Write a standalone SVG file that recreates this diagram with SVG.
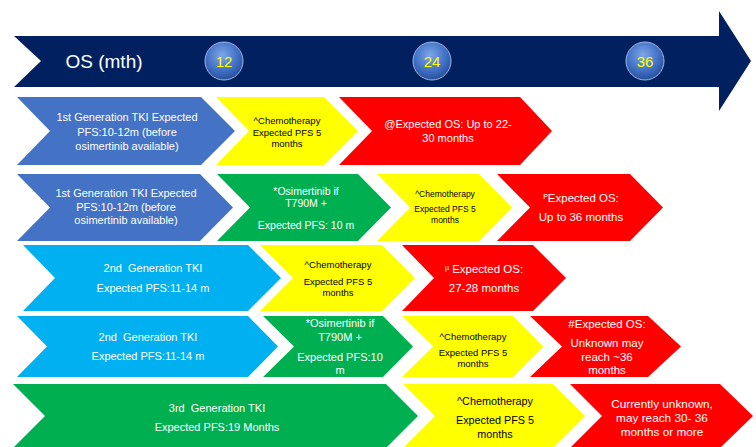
<svg xmlns="http://www.w3.org/2000/svg" width="756" height="447" viewBox="0 0 756 447">
<defs>
<radialGradient id="ball" cx="0.45" cy="0.35" r="0.7">
<stop offset="0" stop-color="#7FA6E8"/>
<stop offset="0.6" stop-color="#3F6FC4"/>
<stop offset="1" stop-color="#23498F"/>
</radialGradient>
</defs>
<style>
text{font-family:"Liberation Sans",Arial,sans-serif;text-anchor:middle}
.w{fill:#FFFFFF}
.k{fill:#000000}
.blue{fill:#4472C4}
.yel{fill:#FFFF00}
.red{fill:#FF0000}
.grn{fill:#00B050}
.cyan{fill:#00B0F0}
.num{fill:#FFFF00;font-size:15px}
</style>
<rect width="756" height="447" fill="#FFFFFF"/>
<g id="timeline">
<polygon points="14,36 719,36 719,11 751,61 719,111 719,87 14,87 41,61" fill="#002060"/>
<text x="104" y="68" class="w" style="font-size:19px">OS (mth)</text>
</g>
<g id="m12"><circle cx="224" cy="61" r="19" fill="url(#ball)" stroke="#9DB8E8" stroke-width="1"/><text x="224" y="67" class="num">12</text></g>
<g id="m24"><circle cx="432" cy="61" r="19" fill="url(#ball)" stroke="#9DB8E8" stroke-width="1"/><text x="432" y="67" class="num">24</text></g>
<g id="m36"><circle cx="645" cy="61" r="19" fill="url(#ball)" stroke="#9DB8E8" stroke-width="1"/><text x="645" y="67" class="num">36</text></g>

<!-- Row 1 -->
<g id="r1a"><polygon class="blue" points="17,97 201,97 235,131 201,165 17,165 50,131"/>
<text class="w" style="font-size:11px"><tspan x="127" y="121">1st Generation TKI Expected</tspan><tspan x="127" y="136">PFS:10-12m (before</tspan><tspan x="127" y="150">osimertinib available)</tspan></text></g>
<g id="r1b"><polygon class="yel" points="216,97 324,97 358,131 324,165 216,165 249,131"/>
<text class="k" style="font-size:9.5px"><tspan x="287" y="124">^Chemotherapy</tspan><tspan x="287" y="136">Expected PFS 5</tspan><tspan x="287" y="147">months</tspan></text></g>
<g id="r1c"><polygon class="red" points="339,97 520,97 552,131 520,165 339,165 372,131"/>
<text class="w" style="font-size:11px"><tspan x="448" y="128">@Expected OS: Up to 22-</tspan><tspan x="448" y="142">30 months</tspan></text></g>

<!-- Row 2 -->
<g id="r2a"><polygon class="blue" points="17,174 200,174 233,207.5 200,241 17,241 50,207.5"/>
<text class="w" style="font-size:11px"><tspan x="126" y="197">1st Generation TKI Expected</tspan><tspan x="126" y="211">PFS:10-12m (before</tspan><tspan x="126" y="224">osimertinib available)</tspan></text></g>
<g id="r2b"><polygon class="grn" points="217,174 358,174 391,207.5 358,241 217,241 250,207.5"/>
<text class="w" style="font-size:10.5px"><tspan x="306" y="195">*Osimertinib if</tspan><tspan x="306" y="207">T790M +</tspan><tspan x="306" y="229">Expected PFS: 10 m</tspan></text></g>
<g id="r2c"><polygon class="yel" points="377,174 479,174 512,207.5 479,241 377,241 410,207.5"/>
<text class="k" style="font-size:8.5px"><tspan x="445" y="197">^Chemotherapy</tspan><tspan x="445" y="212">Expected PFS 5</tspan><tspan x="445" y="223">months</tspan></text></g>
<g id="r2d"><polygon class="red" points="497,174 630,174 663,207.5 630,241 497,241 530,207.5"/>
<text class="w" style="font-size:11.5px"><tspan x="581" y="202"><tspan style="font-size:7px" dy="-3">P</tspan><tspan dy="3">Expected OS:</tspan></tspan><tspan x="581" y="221">Up to 36 months</tspan></text></g>

<!-- Row 3 -->
<g id="r3a"><polygon class="cyan" points="23,245 248,245 281,278 248,311 23,311 55,278"/>
<text class="w" style="font-size:11px"><tspan x="153" y="272">2nd&#160; Generation TKI</tspan><tspan x="153" y="292">Expected PFS:11-14 m</tspan></text></g>
<g id="r3b"><polygon class="yel" points="260,245 382,245 415,278 382,311 260,311 293,278"/>
<text class="k" style="font-size:9.5px"><tspan x="338" y="268">^Chemotherapy</tspan><tspan x="338" y="285">Expected PFS 5</tspan><tspan x="338" y="296">months</tspan></text></g>
<g id="r3c"><polygon class="red" points="402,245 533,245 566,278 533,311 402,311 434,278"/>
<text class="w" style="font-size:11.5px"><tspan x="484" y="273"><tspan style="font-size:7px" dy="-3">µ</tspan><tspan dy="3"> Expected OS:</tspan></tspan><tspan x="484" y="292">27-28 months</tspan></text></g>

<!-- Row 4 -->
<g id="r4a"><polygon class="cyan" points="17,316 248,316 278,346.5 248,377 17,377 47,346.5"/>
<text class="w" style="font-size:11px"><tspan x="148" y="341">2nd&#160; Generation TKI</tspan><tspan x="148" y="360">Expected PFS:11-14 m</tspan></text></g>
<g id="r4b"><polygon class="grn" points="263,316 383,316 413,346.5 383,377 263,377 294,346.5"/>
<text class="w" style="font-size:11px"><tspan x="340" y="327">*Osimertinib if</tspan><tspan x="340" y="341">T790M +</tspan><tspan x="340" y="361">Expected PFS:10</tspan><tspan x="340" y="374">m</tspan></text></g>
<g id="r4c"><polygon class="yel" points="402,316 513,316 543,346.5 513,377 402,377 433,346.5"/>
<text class="k" style="font-size:9.5px"><tspan x="473" y="340">^Chemotherapy</tspan><tspan x="473" y="356">Expected PFS 5</tspan><tspan x="473" y="367">months</tspan></text></g>
<g id="r4d"><polygon class="red" points="530,316 648,316 681,346.5 648,377 530,377 562,346.5"/>
<text class="w" style="font-size:11.5px"><tspan x="607" y="328">#Expected OS:</tspan><tspan x="607" y="347">Unknown may</tspan><tspan x="607" y="361">reach ~36</tspan><tspan x="607" y="374">months</tspan></text></g>

<!-- Row 5 -->
<g id="r5a"><polygon class="grn" points="13,384 386,384 418,416 386,448 13,448 45,416"/>
<text class="w" style="font-size:11px"><tspan x="217" y="412">3rd&#160; Generation TKI</tspan><tspan x="217" y="431">Expected PFS:19 Months</tspan></text></g>
<g id="r5b"><polygon class="yel" points="403,384 553,384 585,416 553,448 403,448 435,416"/>
<text class="k" style="font-size:10.8px"><tspan x="495" y="405">^Chemotherapy</tspan><tspan x="495" y="424">Expected PFS 5</tspan><tspan x="495" y="438">months</tspan></text></g>
<g id="r5c"><polygon class="red" points="570,384 720,384 753,416 720,448 570,448 602,416"/>
<text class="w" style="font-size:11.8px"><tspan x="662" y="408">Currently unknown,</tspan><tspan x="662" y="422">may reach 30- 36</tspan><tspan x="662" y="436">months or more</tspan></text></g>
<g id="connectors"></g>
</svg>
